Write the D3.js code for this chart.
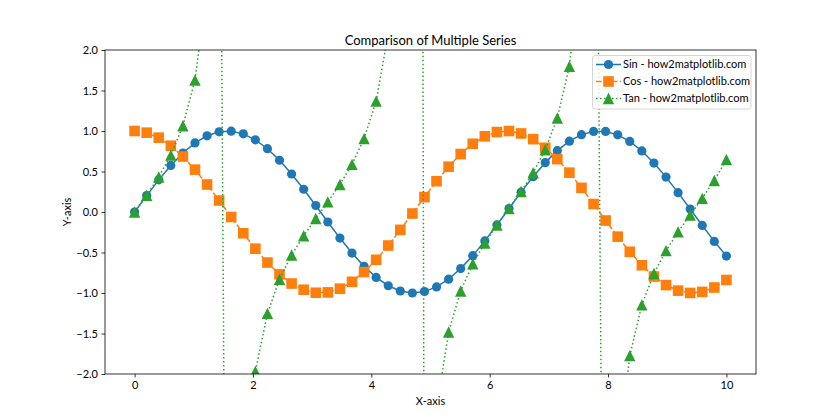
<!DOCTYPE html>
<html>
<head>
<meta charset="utf-8">
<script src="https://cdn.jsdelivr.net/npm/d3@7/dist/d3.min.js"></script>
<style>
  html, body { margin: 0; padding: 0; background: #fff; }
  text { font-family: "Lato", "Noto Sans", sans-serif; fill: #000; }
</style>
</head>
<body>
<svg id="chart" width="840" height="420"></svg>
<script>
const xValues = [0, 0.2041, 0.4082, 0.6122, 0.8163, 1.0204, 1.2245, 1.4286, 1.6327, 1.8367, 2.0408, 2.2449, 2.4490, 2.6531, 2.8571, 3.0612, 3.2653, 3.4694, 3.6735, 3.8776, 4.0816, 4.2857, 4.4898, 4.6939, 4.8980, 5.1020, 5.3061, 5.5102, 5.7143, 5.9184, 6.1224, 6.3265, 6.5306, 6.7347, 6.9388, 7.1429, 7.3469, 7.5510, 7.7551, 7.9592, 8.1633, 8.3673, 8.5714, 8.7755, 8.9796, 9.1837, 9.3878, 9.5918, 9.7959, 10];
const sinValues = [0, 0.2027, 0.3969, 0.5747, 0.7286, 0.8523, 0.9406, 0.9899, 0.9981, 0.9649, 0.8916, 0.7813, 0.6386, 0.4693, 0.2806, 0.0803, -0.1234, -0.3220, -0.5072, -0.6713, -0.8076, -0.9104, -0.9753, -0.9998, -0.9828, -0.9250, -0.8289, -0.6983, -0.5387, -0.3568, -0.1600, 0.0433, 0.2449, 0.4363, 0.6096, 0.7576, 0.8742, 0.9545, 0.9951, 0.9945, 0.9526, 0.8711, 0.7535, 0.6046, 0.4306, 0.2388, 0.0370, -0.1663, -0.3627, -0.5440];
const cosValues = [1, 0.9793, 0.9179, 0.8184, 0.6849, 0.5230, 0.3394, 0.1418, -0.0618, -0.2628, -0.4529, -0.6242, -0.7696, -0.8830, -0.9598, -0.9968, -0.9924, -0.9468, -0.8619, -0.7412, -0.5898, -0.4139, -0.2208, -0.0185, 0.1845, 0.3799, 0.5595, 0.7158, 0.8425, 0.9342, 0.9871, 0.9991, 0.9696, 0.8998, 0.7927, 0.6527, 0.4856, 0.2984, 0.0987, -0.1050, -0.3044, -0.4911, -0.6575, -0.7965, -0.9025, -0.9711, -0.9993, -0.9861, -0.9319, -0.8391];
const tanValues = [0, 0.2070, 0.4325, 0.7023, 1.0639, 1.6296, 2.7712, 6.983, -16.15, -3.671, -1.9685, -1.2516, -0.8297, -0.5315, -0.2924, -0.0805, 0.1244, 0.3401, 0.5884, 0.9057, 1.3694, 2.1997, 4.418, 54.0, -5.327, -2.4352, -1.4815, -0.9755, -0.6394, -0.3819, -0.1621, 0.0434, 0.2526, 0.4849, 0.7691, 1.1608, 1.8002, 3.1991, 10.080, -9.4704, -3.1295, -1.7737, -1.1460, -0.7591, -0.4771, -0.2459, -0.0370, 0.1686, 0.3892, 0.6484];
const seriesNames = ["Sin - how2matplotlib.com", "Cos - how2matplotlib.com", "Tan - how2matplotlib.com"];
const xTicks = [0, 2, 4, 6, 8, 10];
const yTicks = [-2.0, -1.5, -1.0, -0.5, 0.0, 0.5, 1.0, 1.5, 2.0];
const titleText = "Comparison of Multiple Series";
const xLabel = "X-axis";
const yLabel = "Y-axis";

const L = 105, R = 756, T = 50, B = 374;
const svg = d3.select("#chart");
const x = d3.scaleLinear().domain([-0.5, 10.5]).range([L, R]);
const y = d3.scaleLinear().domain([-2, 2]).range([B, T]);

svg.append("defs").append("clipPath").attr("id", "clip")
  .append("rect").attr("x", L).attr("y", T).attr("width", R - L).attr("height", B - T);

const series = [
  { name: seriesNames[0], values: sinValues, color: "#1f77b4", dash: null, marker: "circle" },
  { name: seriesNames[1], values: cosValues, color: "#ff7f0e", dash: "5.55,2.4", marker: "square" },
  { name: seriesNames[2], values: tanValues, color: "#2ca02c", dash: "1.5,2.475", marker: "triangle" }
];

function drawMarker(g, type, cx, cy, color) {
  if (type === "circle") {
    g.append("circle").attr("cx", cx).attr("cy", cy).attr("r", 4.6).attr("fill", color);
  } else if (type === "square") {
    const s = 10.6;
    g.append("rect").attr("x", cx - s / 2).attr("y", cy - s / 2).attr("width", s).attr("height", s).attr("fill", color);
  } else {
    const w = 11.4, h = 11.4;
    g.append("path").attr("d", `M${cx},${cy - h / 2}L${cx + w / 2},${cy + h / 2}L${cx - w / 2},${cy + h / 2}Z`).attr("fill", color);
  }
}

const plot = svg.append("g").attr("clip-path", "url(#clip)");
series.forEach(s => {
  const line = d3.line().x((d, i) => x(xValues[i])).y(d => y(d));
  plot.append("path").datum(s.values).attr("d", line)
    .attr("fill", "none").attr("stroke", s.color).attr("stroke-width", 1.5)
    .attr("stroke-dasharray", s.dash);
  const mg = plot.append("g");
  s.values.forEach((v, i) => {
    if (Math.abs(v) < 3) drawMarker(mg, s.marker, x(xValues[i]), y(v), s.color);
  });
});

// spines
const ax = svg.append("g");
ax.append("rect").attr("x", L).attr("y", T).attr("width", R - L).attr("height", B - T)
  .attr("fill", "none").attr("stroke", "#000").attr("stroke-width", 0.8);

// x axis
const xAxis = d3.axisBottom(x).tickValues(xTicks).tickSize(3.5).tickPadding(3.5).tickFormat(d3.format("d"));
const gx = svg.append("g").attr("transform", `translate(0,${B})`).call(xAxis);
gx.select(".domain").remove();
gx.selectAll(".tick line").attr("stroke", "#000").attr("stroke-width", 0.8);
gx.selectAll(".tick text").attr("font-size", 11).attr("font-family", "Lato, 'Noto Sans', sans-serif").attr("fill", "#000");

const yAxis = d3.axisLeft(y).tickValues(yTicks).tickSize(3.5).tickPadding(3.5).tickFormat(d3.format(".1f"));
const gy = svg.append("g").attr("transform", `translate(${L},0)`).call(yAxis);
gy.select(".domain").remove();
gy.selectAll(".tick line").attr("stroke", "#000").attr("stroke-width", 0.8);
gy.selectAll(".tick text").attr("font-size", 11).attr("font-family", "Lato, 'Noto Sans', sans-serif").attr("fill", "#000");

// title & labels
svg.append("text").attr("x", (L + R) / 2).attr("y", 45).attr("text-anchor", "middle")
  .attr("font-size", 13).text(titleText);
svg.append("text").attr("x", (L + R) / 2).attr("y", 405).attr("text-anchor", "middle")
  .attr("font-size", 11).text(xLabel);
svg.append("text").attr("transform", `translate(71,${(T + B) / 2}) rotate(-90)`).attr("text-anchor", "middle")
  .attr("font-size", 11).text(yLabel);

// legend
const lg = svg.append("g");
lg.append("rect").attr("x", 592.5).attr("y", 55.5).attr("width", 158.5).attr("height", 53.5)
  .attr("rx", 2.5).attr("fill", "#fff").attr("fill-opacity", 0.8).attr("stroke", "#ccc").attr("stroke-width", 0.8);
const rowY = [64.5, 81.5, 98.5];
series.forEach((s, i) => {
  lg.append("line").attr("x1", 596).attr("x2", 621).attr("y1", rowY[i]).attr("y2", rowY[i])
    .attr("stroke", s.color).attr("stroke-width", 1.5).attr("stroke-dasharray", s.dash);
  drawMarker(lg, s.marker, 608.5, rowY[i], s.color);
  lg.append("text").attr("x", 623).attr("y", rowY[i]).attr("dy", "0.36em")
    .attr("font-size", 11).text(s.name);
});
</script>
</body>
</html>
